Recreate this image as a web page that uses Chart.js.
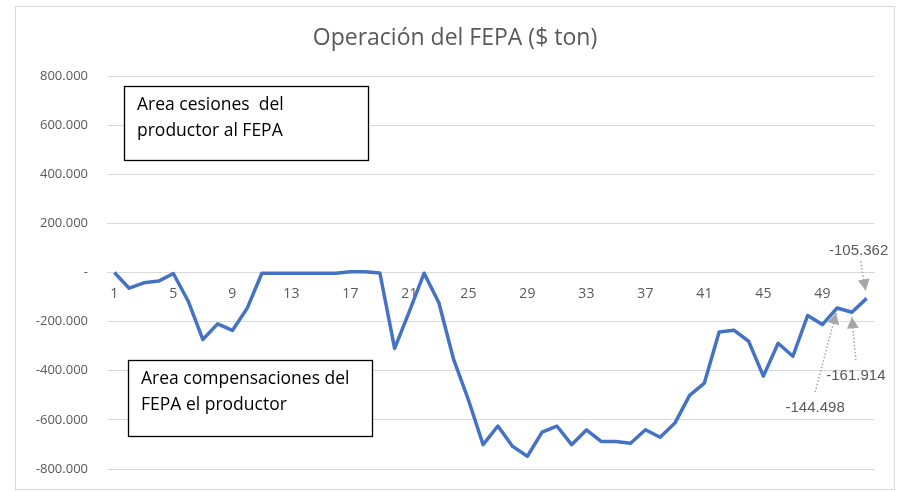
<!DOCTYPE html>
<html>
<head>
<meta charset="utf-8">
<script src="https://cdn.jsdelivr.net/npm/chart.js@4/dist/chart.umd.min.js"></script>
<style>
  html,body{margin:0;padding:0;background:#fff;}
  #wrap{width:901px;height:491px;position:relative;}
</style>
</head>
<body>
<div id="wrap"><canvas id="fepa" width="901" height="491"></canvas></div>
<script>
const weeks = Array.from({length:52},(_,i)=>String(i+1));
const fepa = [
  0, -64000, -42000, -35000, -4000, -116000, -273000, -209000, -236000, -146000,
  -3000, -3000, -3000, -3000, -3000, -3000, 3000, 3000, -2000, -309000,
  -158000, -3000, -123000, -354000, -518000, -701000, -625000, -708000, -748000, -650000,
  -625000, -701000, -641000, -688000, -688000, -695000, -640000, -671000, -613000, -500000,
  -450000, -242000, -235000, -280000, -422000, -288000, -341000, -175000, -212000, -144498,
  -161914, -105362
];
const yTicks = [-800000,-600000,-400000,-200000,0,200000,400000,600000,800000];
const title = "Operación del FEPA ($ ton)";
// etiquetas de datos con flecha: indice, texto
const callouts = [
  {i:49, text:"-144.498", dx:-22, dy:100},
  {i:50, text:"-161.914", dx:4, dy:64},
  {i:51, text:"-105.362", dx:-8, dy:-48}
];
const notes = [
  ["Area cesiones  del","productor al FEPA"],
  ["Area compensaciones del","FEPA el productor"]
];

const fmtMiles = (v)=>{
  if(v===0) return "-";
  const s = Math.abs(v).toString().replace(/\B(?=(\d{3})+(?!\d))/g,".");
  return (v<0?"-":"")+s;
};

const GRAY = "#595959";
const FONT = '"Open Sans", "Noto Sans", sans-serif';

const frame = {
  id:"frame",
  beforeDraw(chart){
    const c = chart.ctx;
    c.save();
    c.fillStyle="#fff"; c.fillRect(0,0,chart.width,chart.height);
    c.strokeStyle="#d9d9d9"; c.lineWidth=1;
    c.strokeRect(15.5,6.5,879,483);
    // titulo centrado en el marco
    c.fillStyle=GRAY; c.font='23px '+FONT;
    c.textAlign="center"; c.textBaseline="middle";
    c.fillText(title, 455, 38);
    c.restore();
  },
  afterDatasetsDraw(chart){
    const c = chart.ctx, a = chart.chartArea;
    const meta = chart.getDatasetMeta(0);
    c.save();
    // cuadros de texto
    c.font = '17.5px '+FONT;
    c.textBaseline = "middle";
    const boxes = [
      {x:a.left+17, y:a.top+10, w:244, h:74, lines:notes[0], tx:13},
      {x:a.left+21, y:a.top+284, w:244, h:76, lines:notes[1], tx:13}
    ];
    boxes.forEach(b=>{
      c.fillStyle="#fff"; c.fillRect(b.x,b.y,b.w,b.h);
      c.strokeStyle="#000"; c.lineWidth=1.3;
      c.strokeRect(b.x+0.5,b.y+0.5,b.w,b.h);
      c.fillStyle="#000"; c.textAlign="left";
      b.lines.forEach((l,k)=>c.fillText(l,b.x+b.tx,b.y+19+k*26));
    });
    // etiquetas con flecha
    c.font = '15px "Liberation Sans", Arial, sans-serif';
    callouts.forEach(o=>{
      const p = meta.data[o.i];
      const tx = p.x+o.dx, ty = p.y+o.dy;
      c.fillStyle=GRAY; c.textAlign="center";
      c.fillText(o.text, tx, ty);
      const sx = tx+(o.dy<0?2:0);
      const sy = o.dy<0 ? ty+11 : ty-16;
      const ey = o.dy<0 ? p.y-8 : p.y+5;
      const ex = p.x + (o.dx<0? -1 : 0);
      c.strokeStyle="#a6a6a6"; c.lineWidth=1.5; c.setLineDash([1.5,2]);
      c.beginPath(); c.moveTo(sx,sy); c.lineTo(ex,ey); c.stroke();
      c.setLineDash([]);
      const ang = Math.atan2(ey-sy, ex-sx);
      c.fillStyle="#a6a6a6";
      c.beginPath();
      c.moveTo(ex,ey);
      c.lineTo(ex-11*Math.cos(ang)+6*Math.sin(ang), ey-11*Math.sin(ang)-6*Math.cos(ang));
      c.lineTo(ex-11*Math.cos(ang)-6*Math.sin(ang), ey-11*Math.sin(ang)+6*Math.cos(ang));
      c.closePath(); c.fill();
    });
    c.restore();
  }
};

const chart = new Chart(document.getElementById("fepa"),{
  type:"line",
  data:{labels:weeks, datasets:[{
    data:fepa, borderColor:"#4472C4", borderWidth:3.5, pointRadius:0,
    tension:0, fill:false, borderJoinStyle:"round"
  }]},
  options:{
    responsive:false, animation:false,
    layout:{padding:{left:15, right:27, bottom:22, top:76}},
    plugins:{ legend:{display:false}, tooltip:{enabled:false} },
    scales:{
      x:{
        position:{y:0}, offset:true,
        grid:{display:false, drawTicks:false},
        border:{color:"#d9d9d9", width:1},
        ticks:{color:GRAY, autoSkip:false, maxRotation:0, padding:13,
          font:{family:FONT, size:14},
          callback:(v,i)=> i%4===0 ? weeks[i] : ""}
      },
      y:{
        min:-800000, max:800000,
        afterBuildTicks:(s)=>{ s.ticks = yTicks.map(v=>({value:v})); },
        afterFit:(s)=>{ s.width = 92; s.paddingTop = 8; s.paddingBottom = 8; },
        grid:{color:"#d9d9d9", drawTicks:false},
        border:{display:false},
        ticks:{color:GRAY, padding:19, callback:(v)=>fmtMiles(v),
          font:{family:FONT, size:13}}
      }
    }
  },
  plugins:[frame]
});
// ajustar el area de trazado a la del original
const want = {top:76, bottom:469, right:874};
const pad = chart.options.layout.padding;
for(let k=0;k<3;k++){
  const a = chart.chartArea;
  pad.bottom = Math.max(0, pad.bottom + Math.round(a.bottom - want.bottom));
  pad.right += Math.round(a.right - want.right);
  pad.top += Math.round(want.top - a.top);
  chart.update();
}
</script>
</body>
</html>
